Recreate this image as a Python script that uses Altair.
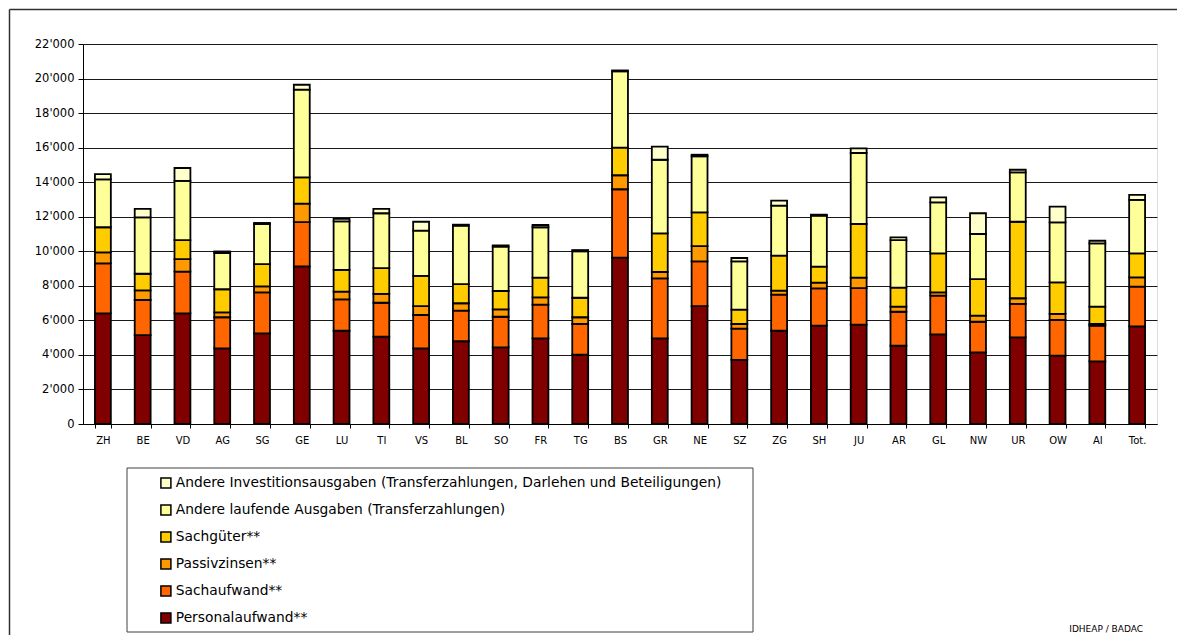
import altair as alt
import pandas as pd

cantons = ["ZH", "BE", "VD", "AG", "SG", "GE", "LU", "TI", "VS", "BL", "SO", "FR", "TG", "BS",
           "GR", "NE", "SZ", "ZG", "SH", "JU", "AR", "GL", "NW", "UR", "OW", "AI", "Tot."]

personal = [6400, 5150, 6410, 4380, 5250, 9130, 5400, 5060, 4380, 4790, 4440, 4960, 4010, 9630,
            4960, 6830, 3710, 5400, 5690, 5750, 4530, 5190, 4150, 5020, 3960, 3630, 5650]
sachaufwand = [2900, 2030, 2410, 1800, 2370, 2560, 1820, 1960, 1930, 1770, 1770, 1950, 1780, 3960,
               3470, 2590, 1810, 2090, 2160, 2120, 1970, 2240, 1770, 1930, 2060, 2060, 2300]
passivzinsen = [640, 560, 730, 280, 350, 1070, 440, 510, 520, 430, 430, 420, 390, 810,
                370, 880, 270, 230, 330, 600, 290, 190, 350, 330, 350, 100, 540]
sachgueter = [1450, 960, 1100, 1340, 1290, 1520, 1260, 1500, 1740, 1110, 1060, 1140, 1130, 1600,
              2240, 1950, 830, 2030, 930, 3110, 1100, 2260, 2120, 4430, 1830, 1000, 1390]
andere_laufende = [2770, 3260, 3420, 2100, 2320, 5080, 2810, 3170, 2620, 3380, 2570, 2920, 2690, 4420,
                   4260, 3250, 2800, 2890, 2950, 4110, 2760, 2950, 2610, 2860, 3470, 3670, 3090]
andere_invest = [310, 490, 750, 90, 60, 280, 140, 250, 520, 60, 70, 130, 70, 50,
                 760, 90, 190, 290, 60, 270, 160, 290, 1200, 150, 910, 150, 290]

categories = [
    "Personalaufwand**",
    "Sachaufwand**",
    "Passivzinsen**",
    "Sachgüter**",
    "Andere laufende Ausgaben (Transferzahlungen)",
    "Andere Investitionsausgaben (Transferzahlungen, Darlehen und Beteiligungen)",
]
colors = ["#800000", "#FF6600", "#FF9900", "#FFCC00", "#FFFF99", "#FFFFCC"]
series = [personal, sachaufwand, passivzinsen, sachgueter, andere_laufende, andere_invest]
y_ticks = [0, 2000, 4000, 6000, 8000, 10000, 12000, 14000, 16000, 18000, 20000, 22000]

rows = []
for idx, (cat, vals) in enumerate(zip(categories, series)):
    for c, v in zip(cantons, vals):
        rows.append({"Kanton": c, "Kategorie": cat, "Wert": v, "idx": idx})
df = pd.DataFrame(rows)

FONT = "DejaVu Sans"

bars = alt.Chart(df).mark_bar(stroke="black", strokeWidth=1.8).encode(
    x=alt.X("Kanton:N", sort=cantons,
            scale=alt.Scale(paddingInner=0.6, paddingOuter=0.3),
            axis=alt.Axis(title=None, labelAngle=0, tickBand="extent", tickSize=4,
                          tickColor="black", domainColor="black", labelColor="black",
                          labelFont=FONT, labelFontSize=10, labelPadding=7, grid=False)),
    y=alt.Y("Wert:Q", stack="zero",
            scale=alt.Scale(domain=[0, 22000], nice=False),
            axis=alt.Axis(title=None, values=y_ticks, grid=True, gridColor="#1a1a1a",
                          gridOpacity=1, tickSize=5, tickColor="black",
                          domainColor="black", labelColor="black", labelFont=FONT,
                          labelFontSize=11.5, labelPadding=4,
                          labelExpr="replace(format(datum.value, ','), ',', \"'\")")),
    color=alt.Color("Kategorie:N",
                    scale=alt.Scale(domain=categories[::-1], range=colors[::-1]),
                    legend=alt.Legend(title=None, orient="none", legendX=76, legendY=432,
                                      symbolType="square", symbolSize=100,
                                      symbolStrokeColor="black", symbolStrokeWidth=1.5,
                                      labelFont=FONT, labelFontSize=13.8, labelColor="black",
                                      rowPadding=10, labelOffset=3, labelLimit=800,
                                      padding=0)),
    order=alt.Order("idx:Q", sort="ascending"),
)

one = pd.DataFrame({"k": [0]})

legend_box = alt.Chart(one).mark_rect(fill=None, stroke="#404040", strokeWidth=1).encode(
    x=alt.value(44), x2=alt.value(670), y=alt.value(424), y2=alt.value(588))

frame_top = alt.Chart(one).mark_rule(color="#303030", strokeWidth=1.5).encode(
    x=alt.value(-73.5), x2=alt.value(1094), y=alt.value(-34.5))
frame_left = alt.Chart(one).mark_rule(color="#303030", strokeWidth=1.5).encode(
    x=alt.value(-73.5), y=alt.value(-34.5), y2=alt.value(591))

source = alt.Chart(one).mark_text(text="IDHEAP / BADAC", font=FONT, fontSize=9,
                                  align="right", baseline="middle", color="black").encode(
    x=alt.value(1060), y=alt.value(585))

chart = alt.layer(bars, legend_box, frame_top, frame_left, source).properties(
    width=1074, height=380, padding=0
).configure_view(stroke="#808080", strokeWidth=2).configure(background="white")

chart.save("out.html", embed_options={"renderer": "svg", "actions": False})
